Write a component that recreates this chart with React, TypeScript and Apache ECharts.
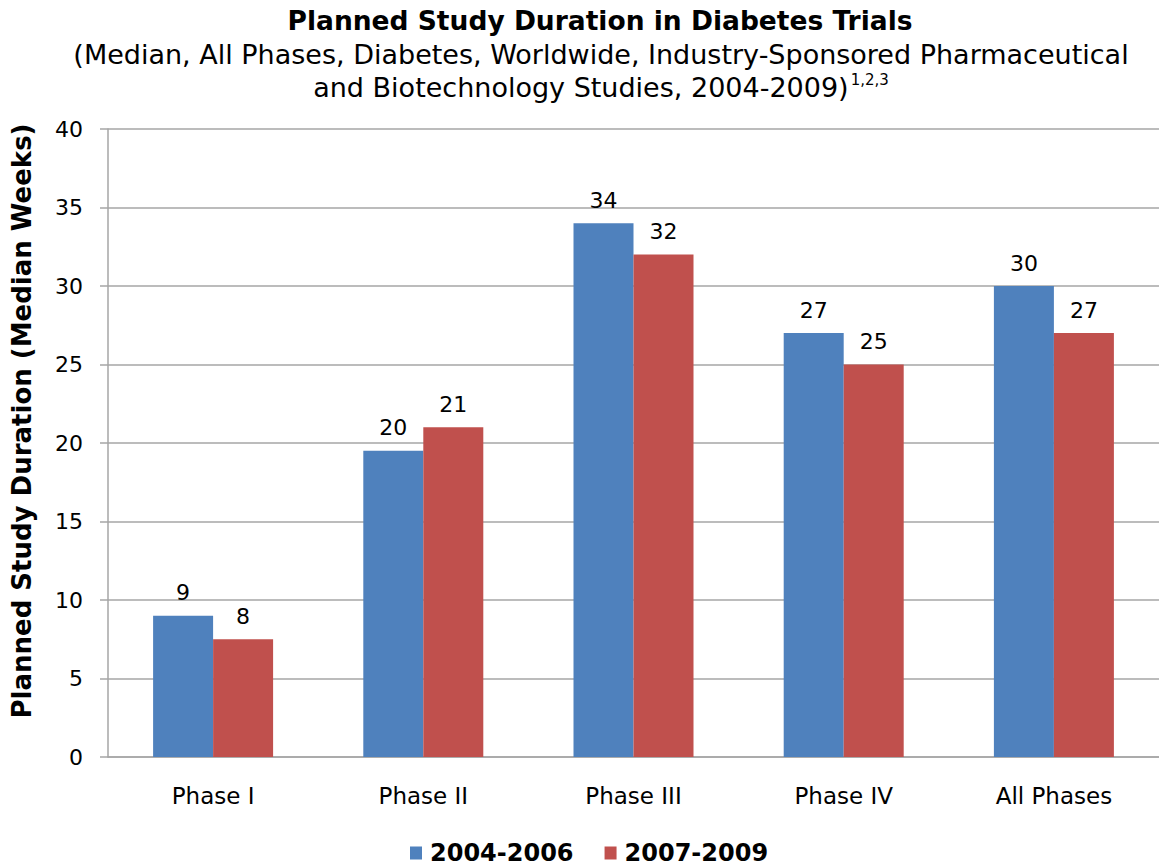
import React, { useEffect, useRef } from "react";
import * as echarts from "echarts";

const categories = ["Phase I", "Phase II", "Phase III", "Phase IV", "All Phases"];
const series2004 = [9, 19.5, 34, 27, 30];
const series2007 = [7.5, 21, 32, 25, 27];
const seriesNames = ["2004-2006", "2007-2009"];
const yMin = 0;
const yMax = 40;
const yInterval = 5;

const FONT = "'DejaVu Sans', Verdana, sans-serif";

export default function App() {
  const ref = useRef<HTMLDivElement>(null);
  useEffect(() => {
    if (!ref.current) return;
    const chart = echarts.init(ref.current, undefined, { renderer: "svg" });
    const labelCfg = {
      show: true,
      position: "top",
      distance: 12,
      fontSize: 22,
      color: "#000",
      fontFamily: FONT,
      formatter: (p: any) => String(Math.round(p.value)),
    };
    chart.setOption({
      animation: false,
      backgroundColor: "#fff",
      textStyle: { fontFamily: FONT },
      graphic: [
        {
          type: "text",
          x: 600,
          y: 20,
          style: {
            text: "Planned Study Duration in Diabetes Trials",
            align: "center",
            verticalAlign: "middle",
            fontFamily: FONT,
            fontSize: 26.5,
            fontWeight: "bold",
            fill: "#000",
          },
        },
        {
          type: "text",
          x: 601,
          y: 54,
          style: {
            text: "(Median, All Phases, Diabetes, Worldwide, Industry-Sponsored Pharmaceutical",
            align: "center",
            verticalAlign: "middle",
            fontFamily: FONT,
            fontSize: 27,
            fill: "#000",
          },
        },
        {
          type: "text",
          x: 601,
          y: 87,
          style: {
            text: "{a|and Biotechnology Studies, 2004-2009)}{sup|1,2,3}",
            align: "center",
            verticalAlign: "middle",
            fontFamily: FONT,
            fontSize: 27,
            fill: "#000",
            rich: {
              a: { fontFamily: FONT, fontSize: 27, fill: "#000", color: "#000" },
              sup: { fontFamily: FONT, fontSize: 15, fill: "#000", color: "#000", verticalAlign: "top", padding: [0, 0, 14, 2] },
            },
          },
        },
        {
          type: "text",
          x: 22,
          y: 421,
          rotation: Math.PI / 2,
          style: {
            text: "Planned Study Duration (Median Weeks)",
            align: "center",
            verticalAlign: "middle",
            fontFamily: FONT,
            fontSize: 26,
            fontWeight: "bold",
            fill: "#000",
          },
        },
      ],
      legend: {
        top: 836,
        left: 405,
        itemWidth: 12,
        itemHeight: 13,
        itemGap: 31,
        icon: "rect",
        textStyle: { fontFamily: FONT, fontSize: 24, fontWeight: "bold", color: "#000", padding: [0, 0, 0, 3] },
        data: seriesNames,
      },
      grid: { left: 108, width: 1060, top: 129, bottom: 110, containLabel: false },
      xAxis: {
        type: "category",
        data: categories,
        axisLine: { lineStyle: { color: "#a6a6a6", width: 1.5 } },
        axisTick: { show: false },
        axisLabel: { fontFamily: FONT, fontSize: 23, color: "#000", margin: 27 },
      },
      yAxis: {
        type: "value",
        min: yMin,
        max: yMax,
        interval: yInterval,
        axisLine: { show: true, lineStyle: { color: "#a6a6a6", width: 1.5 } },
        axisTick: { show: true, length: 8, lineStyle: { color: "#a6a6a6", width: 1.5 } },
        axisLabel: { fontFamily: FONT, fontSize: 22, color: "#000", margin: 25 },
        splitLine: { lineStyle: { color: "#a6a6a6", width: 1.5 } },
      },
      series: [
        {
          name: seriesNames[0],
          type: "bar",
          data: series2004,
          barWidth: 60,
          barGap: "0%",
          itemStyle: { color: "#4F81BD" },
          label: labelCfg,
        },
        {
          name: seriesNames[1],
          type: "bar",
          data: series2007,
          barWidth: 60,
          barGap: "0%",
          itemStyle: { color: "#C0504D" },
          label: labelCfg,
        },
      ],
    });
    return () => chart.dispose();
  }, []);
  return (
    <div
      ref={ref}
      style={{ position: "fixed", left: 0, top: 0, width: 1159, height: 867 }}
    />
  );
}
